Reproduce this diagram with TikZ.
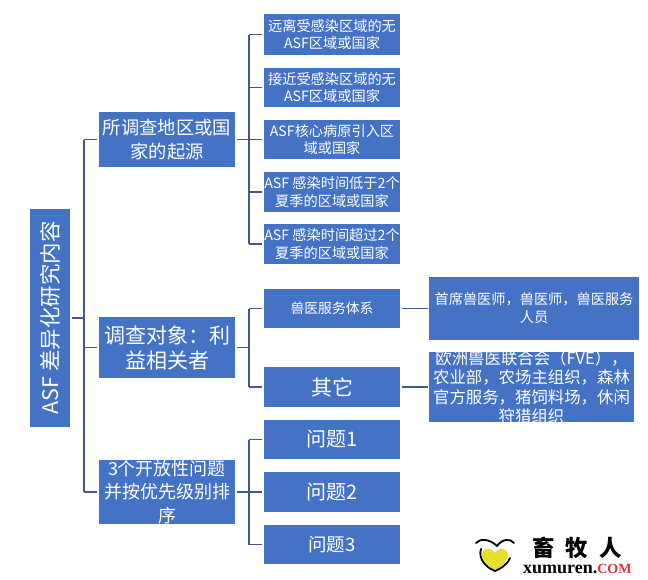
\documentclass[tikz,border=0pt]{standalone}
\usepackage{fontspec}
\setmainfont{Noto Sans CJK SC}
\newfontfamily\logofont{Liberation Serif}[BoldFont={Liberation Serif Bold}]
\definecolor{boxblue}{HTML}{4472C4}
\definecolor{linkblue}{HTML}{44598A}
\definecolor{comred}{HTML}{D8343A}
\definecolor{heartyellow}{HTML}{E6DF2E}
\newcommand{\fsz}[2]{\fontsize{#1}{#2}\selectfont}
\tikzset{
  x=1pt,y=-1pt,
  box/.style={fill=boxblue,text=white,inner sep=0pt,align=center,anchor=center},
  rootbox/.style={box,minimum width=218pt,minimum height=40pt,rotate=90,font=\fsz{21.5}{24}},
  midbox/.style={box,minimum width=136pt,font=\fsz{18.3}{23.5}},
  leafbox/.style={box,minimum width=136pt,font=\fsz{14.2}{17.8}},
  farbox/.style={box,font=\fsz{14.2}{18}},
  link/.style={draw=linkblue,line width=1.4pt},
  stub/.style={link,shorten <=2pt},
}
\begin{document}
\begin{tikzpicture}
\useasboundingbox (0,0) rectangle (648,579);
% root
\node[rootbox] (root) at (50,318) {ASF 差异化研究内容};
% level 1
\node[midbox,minimum height=55pt] (m1) at (167,139.5) {所调查地区或国\\家的起源};
\node[midbox,minimum height=61pt,font=\fsz{21}{25}] (m2) at (167,347.5) {调查对象：利\\益相关者};
\node[midbox,minimum height=64pt,path picture={
  \node[text=white,align=center,inner sep=0pt,font=\fsz{18}{23.3}] (m3t) at (path picture bounding box.center) {3个开放性问题\\并按优先级别排\\序};
}] (m3) at (167,492) {};
% level 2
\node[leafbox,minimum height=41pt] (a1) at (332,34.5) {远离受感染区域的无\\ASF区域或国家};
\node[leafbox,minimum height=39pt] (a2) at (332,87.5) {接近受感染区域的无\\ASF区域或国家};
\node[leafbox,minimum height=39pt] (a3) at (332,139.5) {ASF核心病原引入区\\域或国家};
\node[leafbox,minimum height=40pt] (a4) at (332,192) {ASF 感染时间低于2个\\夏季的区域或国家};
\node[leafbox,minimum height=40pt] (a5) at (332,244) {ASF 感染时间超过2个\\夏季的区域或国家};
\node[leafbox,minimum height=39pt,font=\fsz{13.8}{17}] (b1) at (332,308.5) {兽医服务体系};
\node[leafbox,minimum height=40pt,font=\fsz{21}{25}] (b2) at (332,387) {其它};
\node[leafbox,minimum height=39pt,font=\fsz{20}{24}] (c1) at (332,439.5) {问题1};
\node[leafbox,minimum height=40pt,font=\fsz{20}{24}] (c2) at (332,492) {问题2};
\node[leafbox,minimum height=39pt,font=\fsz{18.5}{24}] (c3) at (332,544.5) {问题3};
% level 3
\node[farbox,minimum width=210pt,minimum height=63pt] (d1) at (534,308) {首席兽医师，兽医师，兽医服务\\人员};
\node[farbox,minimum width=205pt,minimum height=70pt,path picture={
  \node[text=white,align=center,inner sep=0pt,font=\fsz{16.4}{19.4}] (d2t) at (path picture bounding box.center) {欧洲兽医联合会（FVE），\\农业部，农场主组织，森林\\官方服务，猪饲料场，休闲\\狩猎组织};
}] (d2) at (531.5,387) {};
% bus coordinates
\coordinate (busA) at (84,0);
\coordinate (busB) at (249,0);
% root bus
\draw[link] (m1.west -| busA) -- (m3.west -| busA);
\draw[stub] (root.south) -- (root.south -| busA);
\foreach \n in {m1,m2,m3} \draw[stub] (\n.west) -- (\n.west -| busA);
% group 1
\draw[link] (a1.west -| busB) -- (a5.west -| busB);
\draw[stub] (m1.east) -- (m1.east -| busB);
\foreach \n in {a1,a2,a3,a4,a5} \draw[stub] (\n.west) -- (\n.west -| busB);
% group 2
\draw[link] (b1.west -| busB) -- (b2.west -| busB);
\draw[stub] (m2.east) -- (m2.east -| busB);
\foreach \n in {b1,b2} \draw[stub] (\n.west) -- (\n.west -| busB);
% group 3
\draw[link] (c1.west -| busB) -- (c3.west -| busB);
\draw[stub] (m3.east) -- (m3.east -| busB);
\foreach \n in {c1,c2,c3} \draw[stub] (\n.west) -- (\n.west -| busB);
% level 2 to level 3
\draw[link,shorten <=2pt,shorten >=1pt] (b1.east) -- (b1.east -| d1.west);
\draw[link,shorten <=2pt,shorten >=1pt] (b2.east) -- (b2.east -| d2.west);
% logo
\fill[heartyellow] (495,553) .. controls (490,546) and (481,548) .. (482,556) .. controls (483,563) and (491,567) .. (495,570) .. controls (500,567) and (508,562) .. (508,555) .. controls (508,548) and (499,546) .. (495,553) -- cycle;
\draw[black,line width=1.8pt,line cap=round] (481,549) .. controls (478,558) and (485,567) .. (495,571) .. controls (500,569) and (507,565) .. (510,558);
\draw[black,line width=1.8pt,line cap=round] (476,543) .. controls (480,538) and (490,539) .. (497,546);
\draw[black,line width=1.8pt,line cap=round] (514,543) .. controls (510,538) and (502,539) .. (497,546);
\node[inner sep=0pt,anchor=center,font=\bfseries\fsz{22.5}{23}] (logoA) at (544,548) {畜};
\node[inner sep=0pt,anchor=center,font=\bfseries\fsz{22.5}{23}] (logoB) at (577,548) {牧};
\node[inner sep=0pt,anchor=center,font=\bfseries\fsz{22.5}{23}] (logoC) at (611,548) {人};
\node[inner sep=0pt,anchor=west,font=\logofont\bfseries\fsz{18}{18}] (logoD) at (523,569) {xumuren.\textcolor{comred}{\fsz{14}{14}COM}};
\end{tikzpicture}
\end{document}
